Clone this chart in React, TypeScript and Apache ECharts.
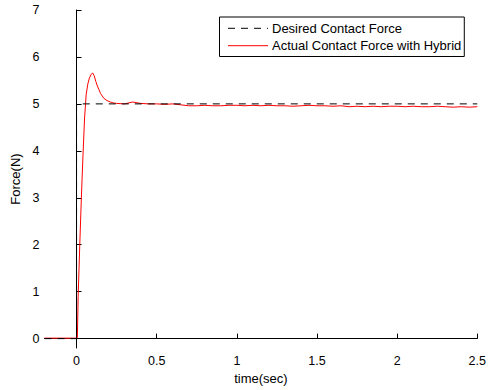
import React, { useEffect, useRef } from "react";
import * as echarts from "echarts";

const desiredT = [-0.2, 0, 0, 2.5];
const desiredF = [0, 0, 5, 5];

const actualT = [-0.2, 0.0, 0.005, 0.01, 0.02, 0.03, 0.04, 0.05, 0.06, 0.07, 0.08, 0.09, 0.1, 0.11, 0.12, 0.13, 0.14, 0.15, 0.17, 0.19, 0.21, 0.23, 0.25, 0.3, 0.35, 0.4, 0.45, 0.5, 0.55, 0.6, 0.65, 0.7, 0.75, 0.8, 0.85, 0.9, 0.95, 1.0, 1.05, 1.1, 1.15, 1.2, 1.25, 1.3, 1.35, 1.4, 1.45, 1.5, 1.55, 1.6, 1.65, 1.7, 1.75, 1.8, 1.85, 1.9, 1.95, 2.0, 2.05, 2.1, 2.15, 2.2, 2.25, 2.3, 2.35, 2.4, 2.45, 2.5];
const actualF = [0.01, 0.01, 0.02, 0.9, 2.0, 3.0, 3.9, 4.7, 5.2, 5.42, 5.55, 5.62, 5.66, 5.6, 5.48, 5.38, 5.3, 5.22, 5.12, 5.07, 5.04, 5.02, 5.01, 5.0, 5.04, 5.01, 5.0, 5.0, 4.99, 5.0, 4.98, 4.96, 4.96, 4.97, 4.96, 4.96, 4.97, 4.97, 4.96, 4.97, 4.96, 4.97, 4.96, 4.96, 4.95, 4.96, 4.97, 4.96, 4.96, 4.95, 4.96, 4.94, 4.95, 4.94, 4.95, 4.94, 4.95, 4.95, 4.94, 4.95, 4.94, 4.94, 4.95, 4.94, 4.93, 4.94, 4.93, 4.94];

const xTicks = [0, 0.5, 1, 1.5, 2, 2.5];
const yTicks = [0, 1, 2, 3, 4, 5, 6, 7];

export default function App() {
  const ref = useRef<HTMLDivElement>(null);
  useEffect(() => {
    if (!ref.current) return;
    const chart = echarts.init(ref.current, null, { renderer: "svg" });
    const font = "Liberation Sans, Arial, Helvetica, sans-serif";
    chart.setOption({
      animation: false,
      backgroundColor: "#fff",
      textStyle: { fontFamily: font },
      grid: { left: 44.5, right: 10.5, top: 10, bottom: 39, containLabel: false },
      legend: {
        show: true,
        left: 219.5,
        top: 17,
        orient: "vertical",
        padding: [4.8, 3, 4.3, 8],
        itemWidth: 40,
        itemHeight: 14,
        itemGap: 4.4,
        borderColor: "#000",
        borderWidth: 1,
        borderRadius: 0,
        backgroundColor: "#fff",
        itemStyle: { opacity: 0 },
        lineStyle: { inherit: true, width: 1 },
        textStyle: { fontSize: 13, color: "#000", fontFamily: font, padding: [0, 0, 0, -1] },
        data: ["Desired Contact Force", "Actual Contact Force with Hybrid"],
      },
      xAxis: {
        type: "value",
        min: -0.2,
        max: 2.5,
        name: "time(sec)",
        nameLocation: "middle",
        nameGap: 24,
        nameTextStyle: { fontSize: 13, color: "#000", fontFamily: font },
        splitLine: { show: false },
        axisLine: { lineStyle: { color: "#000", width: 1 } },
        axisTick: { inside: true, length: 5, lineStyle: { color: "#000" }, customValues: xTicks },
        axisLabel: { fontSize: 12.5, color: "#000", margin: 6, customValues: xTicks, fontFamily: font },
      },
      yAxis: {
        type: "value",
        min: -0.2,
        max: 7,
        name: "Force(N)",
        nameLocation: "middle",
        nameGap: 21,
        nameTextStyle: { fontSize: 13, color: "#000", fontFamily: font },
        splitLine: { show: false },
        axisLine: { show: true, lineStyle: { color: "#000", width: 1 } },
        axisTick: { show: true, inside: true, length: 5, lineStyle: { color: "#000" }, customValues: yTicks },
        axisLabel: { fontSize: 12.5, color: "#000", margin: 5, customValues: yTicks, fontFamily: font },
      },
      series: [
        {
          name: "Desired Contact Force",
          type: "line",
          showSymbol: false,
          symbol: "none",
          lineStyle: { color: "#000", width: 1, type: [7, 6] },
          itemStyle: { color: "#000" },
          data: desiredT.map((t, i) => [t, desiredF[i]]),
          z: 3,
        },
        {
          name: "Actual Contact Force with Hybrid",
          type: "line",
          showSymbol: false,
          symbol: "none",
          lineStyle: { color: "#ff0000", width: 1 },
          itemStyle: { color: "#ff0000" },
          data: actualT.map((t, i) => [t, actualF[i]]),
          z: 2,
        },
      ],
    });
    return () => chart.dispose();
  }, []);
  return <div ref={ref} style={{ width: 489, height: 390, position: "absolute", left: 0, top: 0 }} />;
}
